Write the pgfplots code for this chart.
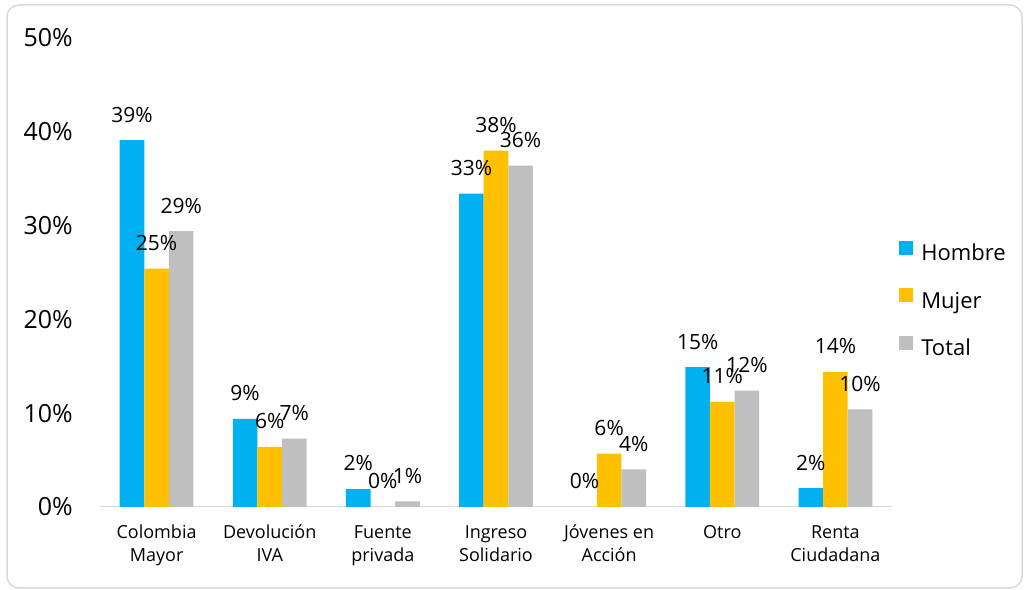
\documentclass[border=0pt]{standalone}
\usepackage{fontspec}
\setmainfont{Open Sans}
\usepackage{pgfplots}
\pgfplotsset{compat=1.18}

\definecolor{hombre}{HTML}{00B0F0}
\definecolor{mujer}{HTML}{FFC000}
\definecolor{total}{HTML}{BFBFBF}
\definecolor{linegray}{HTML}{D9D9D9}

\begin{document}
\begin{tikzpicture}
  % canvas 1024 x 590
  \path (0,0) rectangle (1024bp,590bp);
  \draw[linegray, line width=1.5bp, rounded corners=12bp] (7bp,2bp) rectangle (1022bp,585bp);

  \begin{axis}[
      at={(100bp,83bp)}, anchor=south west,
      scale only axis,
      width=792bp, height=469bp,
      ybar=0pt, bar width=24.6bp,
      xmin=-0.5, xmax=6.5,
      ymin=0, ymax=50,
      xtick=data,
      xticklabels={{Colombia\\Mayor},{Devolución\\IVA},{Fuente\\privada},{Ingreso\\Solidario},{Jóvenes en\\Acción},{Otro},{Renta\\Ciudadana}},
      ytick={0,10,...,50},
      yticklabel={\pgfmathprintnumber{\tick}\%},
      /pgf/number format/assume math mode=true,
      major tick length=0pt,
      axis line style={draw=none},
      axis x line*=bottom, axis y line*=left,
      yticklabel style={font=\fontsize{25bp}{30bp}\selectfont, inner sep=0pt, xshift=-27bp},
      xticklabel style={font=\fontsize{18bp}{23bp}\selectfont, align=center, inner sep=0pt, anchor=north, yshift=-18bp},
      nodes near coords={\pgfmathprintnumber[fixed,precision=0]{\pgfplotspointmeta}\%},
      every node near coord/.append style={font=\fontsize{21bp}{25bp}\selectfont, text=black, inner sep=0pt, text depth=0pt, anchor=south, yshift=18bp},
      legend style={at={(1.009,0.44)}, anchor=west, draw=none, fill=none, inner sep=0pt,
        font=\fontsize{22bp}{26bp}\selectfont, row sep=22.5bp,
        nodes={inner sep=0pt, text height=16bp, text depth=5bp},
        /tikz/every odd column/.append style={column sep=8bp}},
      legend cell align=left,
      legend image code/.code={\fill[#1] (0bp,0.5bp) rectangle (14bp,14.5bp);},
    ]
    \draw[linegray, line width=1.5bp] (rel axis cs:0,0) -- (rel axis cs:1,0);

    \addplot[fill=hombre, draw=none] coordinates {
      (0,39.1) (1,9.4) (2,1.9) (3,33.4) (4,0) (5,14.9) (6,2.0)
    };
    \addlegendentry{Hombre}
    \addplot[fill=mujer, draw=none] coordinates {
      (0,25.4) (1,6.4) (2,0) (3,38.0) (4,5.7) (5,11.2) (6,14.4)
    };
    \addlegendentry{Mujer}
    \addplot[fill=total, draw=none] coordinates {
      (0,29.4) (1,7.3) (2,0.6) (3,36.4) (4,4.0) (5,12.4) (6,10.4)
    };
    \addlegendentry{Total}
  \end{axis}
\end{tikzpicture}
\end{document}
